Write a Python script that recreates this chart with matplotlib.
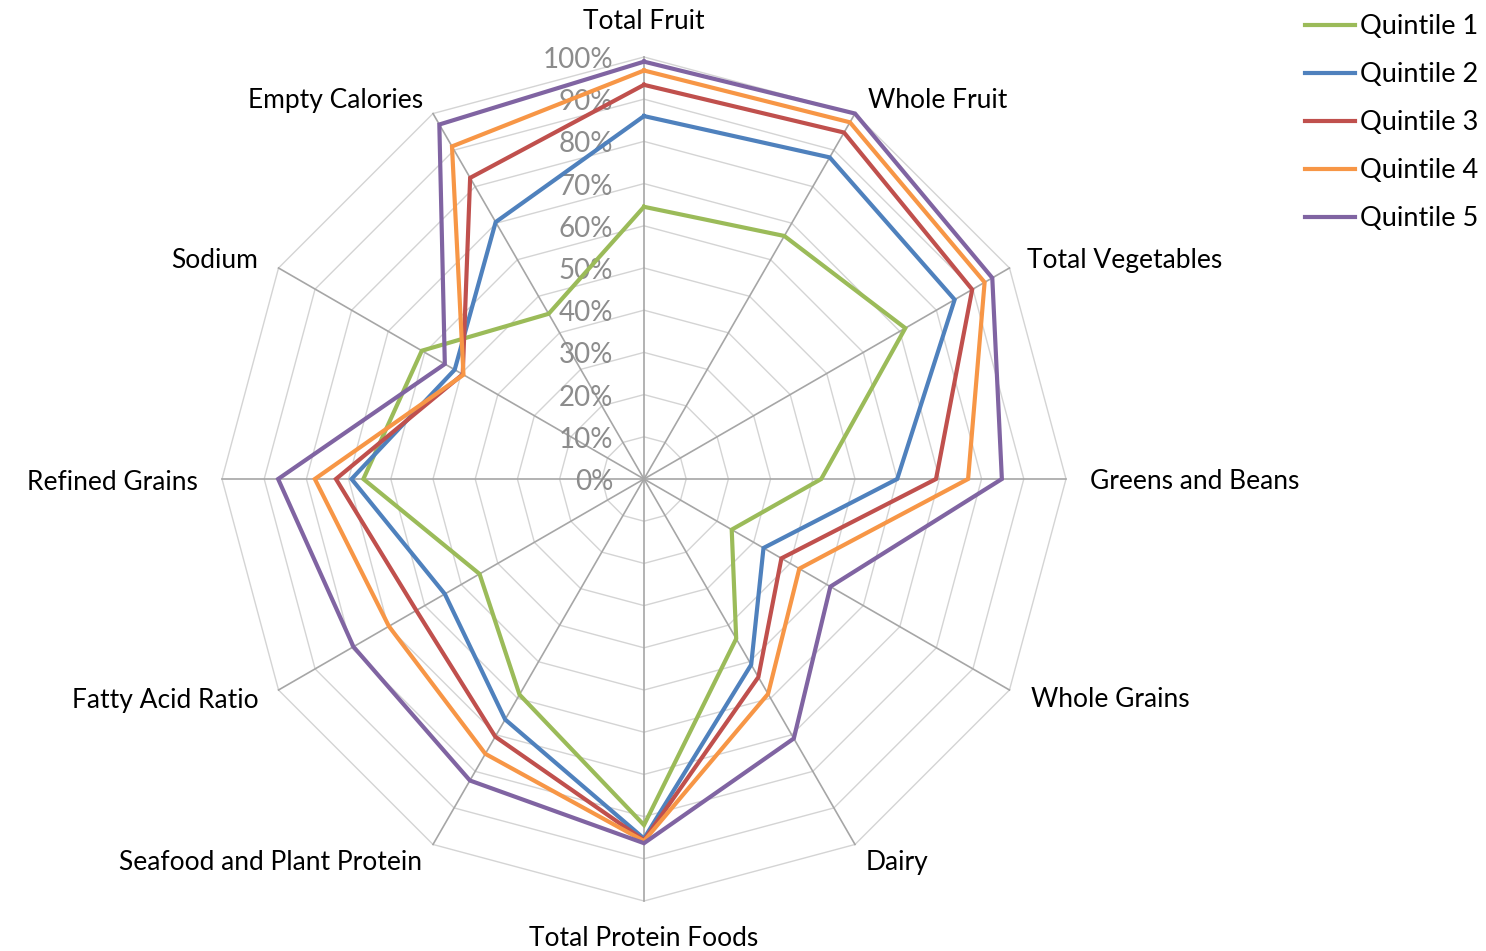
import numpy as np
import matplotlib
matplotlib.use("Agg")
import matplotlib.pyplot as plt

categories = ["Total Fruit", "Whole Fruit", "Total Vegetables", "Greens and Beans",
              "Whole Grains", "Dairy", "Total Protein Foods", "Seafood and Plant Protein",
              "Fatty Acid Ratio", "Refined Grains", "Sodium", "Empty Calories"]
series_names = ["Quintile 1", "Quintile 2", "Quintile 3", "Quintile 4", "Quintile 5"]
quintile1 = [64.5, 66.5, 71.5, 42.0, 24.0, 43.7, 82.0, 59.0, 45.0, 66.5, 60.8, 45.2]
quintile2 = [86.0, 88.0, 85.0, 60.0, 32.7, 50.8, 85.2, 65.8, 54.5, 69.3, 51.8, 70.3]
quintile3 = [93.4, 94.8, 89.8, 69.2, 37.6, 54.2, 85.6, 70.5, 62.3, 73.0, 49.6, 82.4]
quintile4 = [96.8, 97.6, 93.2, 76.8, 42.5, 58.8, 85.8, 75.2, 69.8, 78.0, 49.4, 91.0]
quintile5 = [98.9, 100.0, 95.3, 84.8, 51.0, 71.0, 86.3, 82.5, 79.5, 86.7, 54.5, 97.0]
tick_values = [0, 10, 20, 30, 40, 50, 60, 70, 80, 90, 100]
tick_labels = ["0%", "10%", "20%", "30%", "40%", "50%", "60%", "70%", "80%", "90%", "100%"]
colors = ["#9BBB59", "#4F81BD", "#C0504D", "#F79646", "#8064A2"]

# label placement: (offset px x, offset px y, ha)
label_style = [(0, 35, "center"), (13, 13, "left"), (18, 7, "left"), (24, -3, "left"),
               (22, -10, "left"), (11, -18, "left"), (0, -37, "center"), (-11, -18, "right"),
               (-20, -10, "right"), (-24, -3, "right"), (-20, 7, "right"), (-10, 13, "right")]

W, H = 1486, 951
cx, cy, R = 644, 479, 422.0
fig = plt.figure(figsize=(W / 100, H / 100), dpi=100)
ax = fig.add_axes([0, 0, 1, 1])
ax.set_xlim(-cx / R, (W - cx) / R)
ax.set_ylim(-(H - cy) / R, cy / R)
ax.axis("off")

plt.rcParams["font.family"] = ["Lato", "DejaVu Sans"]

n = len(categories)
theta = np.pi / 2 - np.arange(n) * 2 * np.pi / n
ct, st = np.cos(theta), np.sin(theta)

# rings
for tv in tick_values[1:]:
    r = tv / 100.0
    ax.plot(np.append(r * ct, r * ct[0]), np.append(r * st, r * st[0]),
            color="#d4d4d4", lw=1.0, zorder=1)
# spokes
for i in range(n):
    ax.plot([0, ct[i]], [0, st[i]], color="#a6a6a6", lw=1.2, zorder=2)

# tick labels
for tv, tl in zip(tick_values, tick_labels):
    ax.annotate(tl, xy=(0, tv / 100.0), xytext=(-31, -3), textcoords="offset pixels",
                ha="right", va="center", fontsize=20, color="#8c8c8c", zorder=3)

# category labels
for i, cat in enumerate(categories):
    dx, dy, ha = label_style[i]
    ax.annotate(cat, xy=(ct[i], st[i]), xytext=(dx, dy), textcoords="offset pixels",
                ha=ha, va="center", fontsize=19, color="#000000")

# series
data = [quintile1, quintile2, quintile3, quintile4, quintile5]
for vals, name, c in zip(data, series_names, colors):
    v = np.array(vals) / 100.0
    x = np.append(v * ct, v[0] * ct[0])
    y = np.append(v * st, v[0] * st[0])
    ax.plot(x, y, color=c, lw=3.0, label=name, zorder=5, solid_joinstyle="miter")

leg = ax.legend(loc="upper right", bbox_to_anchor=(1.0, 1.0 - 6.0 / H), frameon=False,
                fontsize=19.5, handlelength=1.85, handletextpad=0.18,
                labelspacing=0.85, borderaxespad=0.0, borderpad=0.3)

fig.savefig("out.png", dpi=100)
